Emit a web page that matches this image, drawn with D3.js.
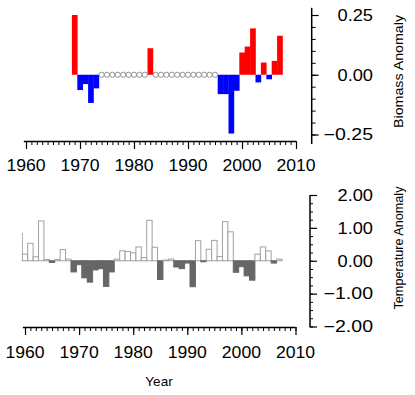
<!DOCTYPE html>
<html><head><meta charset="utf-8">
<script src="https://cdn.jsdelivr.net/npm/d3@7/dist/d3.min.js"></script>
<style>
body{margin:0;background:#fff}
svg{display:block}
text{font-family:"Liberation Sans",Arial,Helvetica,sans-serif;fill:#000}
</style>
</head><body>
<svg id="c" width="415" height="395"></svg>
<script>
// ---------- data ----------
const biomassYears = [1969,1970,1971,1972,1973,1974,1975,1976,1977,1978,1979,1980,1981,1982,1983,1984,1985,1986,1987,1988,1989,1990,1991,1992,1993,1994,1995,1996,1997,1998,1999,2000,2001,2002,2003,2004,2005,2006,2007];
const biomassValues = [0.25,-0.064,-0.039,-0.118,-0.057,null,null,null,null,null,null,null,null,null,0.111,null,null,null,null,null,null,null,null,null,null,null,null,-0.081,-0.081,-0.246,-0.067,0.093,0.118,0.194,-0.032,0.051,-0.019,0.058,0.163];

const tempYears = [1959,1960,1961,1962,1963,1964,1965,1966,1967,1968,1969,1970,1971,1972,1973,1974,1975,1976,1977,1978,1979,1980,1981,1982,1983,1984,1985,1986,1987,1988,1989,1990,1991,1992,1993,1994,1995,1996,1997,1998,1999,2000,2001,2002,2003,2004,2005,2006,2007];
const tempValues = [0.83,0.20,0.53,0.12,1.21,0.04,-0.05,0.04,0.34,0.05,-0.34,-0.12,-0.52,-0.65,-0.28,-0.24,-0.78,-0.34,0.05,0.30,0.28,0.24,0.42,0.10,1.23,0.41,-0.57,0.02,0.05,-0.19,-0.24,-0.07,-0.79,0.61,-0.03,0.35,0.62,0.13,1.19,0.88,-0.35,-0.18,-0.46,-0.59,0.20,0.42,0.30,-0.07,0.05];

const xTickLabels = ["1960","1970","1980","1990","2000","2010"];
const biomassTickLabels = ["0.25","0.00","\u22120.25"];
const tempTickLabels = ["2.00","1.00","0.00","\u22121.00","\u22122.00"];
const xTitle = "Year";
const biomassTitle = "Biomass Anomaly";
const tempTitle = "Temperature Anomaly";

const num = s => +s.replace("\u2212","-");
const svg = d3.select("#c");

function stretch(sel, f){
  sel.each(function(){
    const L = this.getComputedTextLength();
    d3.select(this).attr("textLength", L*f).attr("lengthAdjust","spacingAndGlyphs");
  });
}

// ---------- scales ----------
const xTop = d3.scaleLinear().domain([1960,2010]).range([26,296]);
const yTop = d3.scaleLinear().domain([-0.25,0.25]).range([134.5,15]);
const xBot = d3.scaleLinear().domain([1960,2010]).range([25,295.5]);
const yBot = d3.scaleLinear().domain([-2,2]).range([326.5,195]);

// ---------- top panel ----------
const topData = biomassYears.map((y,i)=>({year:y, v:biomassValues[i]}));
const bw = xTop(1961)-xTop(1960);
svg.append("g").selectAll("rect").data(topData.filter(d=>d.v!==null)).join("rect")
  .attr("x", d=>xTop(d.year)-bw/2)
  .attr("width", bw+0.3)
  .attr("y", d=>Math.min(yTop(d.v), yTop(0)))
  .attr("height", d=>Math.abs(yTop(d.v)-yTop(0)))
  .attr("fill", d=>d.v>=0 ? "#ff0000" : "#0000ff");
svg.append("g").selectAll("circle").data(topData.filter(d=>d.v===null)).join("circle")
  .attr("cx", d=>xTop(d.year)).attr("cy", yTop(0)).attr("r", 2.6)
  .attr("fill","#fff").attr("stroke","#777").attr("stroke-width",0.8);

// top x axis
function xAxis(x, yPos, labelY){
  const g = svg.append("g").attr("transform",`translate(0,${yPos})`);
  const minor = d3.range(1960,2011);
  g.call(d3.axisBottom(x).tickValues(minor).tickSize(4).tickSizeOuter(0).tickFormat(""));
  g.select(".domain").attr("stroke","#000").attr("stroke-width",1.5)
    .attr("d",`M${x(1959.6)},0.5H${x(2010)}`);
  g.selectAll(".tick line").attr("stroke","#000").attr("stroke-width",1);
  const maj = svg.append("g").attr("transform",`translate(0,${yPos})`);
  maj.call(d3.axisBottom(x).tickValues(xTickLabels.map(num)).tickSize(8).tickSizeOuter(0).tickFormat(""));
  maj.select(".domain").remove();
  maj.selectAll(".tick line").attr("stroke","#000").attr("stroke-width",1.2);
  const t = svg.append("g").selectAll("text").data(xTickLabels).join("text")
    .attr("x", d=>x(num(d))).attr("y", labelY)
    .attr("text-anchor","middle").attr("font-size",16).text(d=>d);
  stretch(t,1.1);
}
xAxis(xTop, 141, 170.7);

// y axis right
function yAxis(y, xPos, vTop, vBot, minorVals, labels, minorLen, majorLen){
  const g = svg.append("g").attr("transform",`translate(${xPos},0)`);
  g.append("line").attr("x1",0).attr("x2",0).attr("y1",y(vTop)).attr("y2",y(vBot))
    .attr("stroke","#000").attr("stroke-width",1.5);
  const a = d3.axisRight(y).tickValues(minorVals).tickSize(minorLen).tickFormat("");
  g.append("g").call(a).call(s=>s.select(".domain").remove())
    .selectAll(".tick line").attr("stroke","#000");
  const b = d3.axisRight(y).tickValues(labels.map(num)).tickSize(majorLen).tickFormat("");
  g.append("g").call(b).call(s=>s.select(".domain").remove())
    .selectAll(".tick line").attr("stroke","#000").attr("stroke-width",1.2);
  const t = svg.append("g").selectAll("text").data(labels).join("text")
    .attr("x",373).attr("y",d=>y(num(d))).attr("dy","0.36em")
    .attr("text-anchor","end").attr("font-size",16).text(d=>d);
  stretch(t.filter(d=>d[0]!=="\u2212"),1.14);
  stretch(t.filter(d=>d[0]==="\u2212"),1.22);
}
yAxis(yTop, 311.7, 0.28, -0.29, d3.range(-5,6).map(i=>i*0.05), biomassTickLabels, 4, 7);

svg.append("text").attr("transform",`translate(403,71.5) rotate(-90)`)
  .attr("text-anchor","middle").attr("font-size",12).text(biomassTitle)
  .attr("textLength",113).attr("lengthAdjust","spacingAndGlyphs");

// ---------- bottom panel ----------
const botData = tempYears.map((y,i)=>({year:y, v:tempValues[i]}));
const bw2 = xBot(1961)-xBot(1960);
svg.append("clipPath").attr("id","clipB").append("rect")
  .attr("x", xBot(1959.5)-0.5).attr("y",180).attr("width", 290).attr("height",160);
svg.append("g").attr("clip-path","url(#clipB)")
  .selectAll("rect").data(botData).join("rect")
  .attr("x", d=>xBot(d.year)-bw2/2)
  .attr("width", bw2)
  .attr("y", d=>Math.min(yBot(d.v), yBot(0)))
  .attr("height", d=>Math.max(0.6,Math.abs(yBot(d.v)-yBot(0))))
  .attr("fill", d=>d.v>=0 ? "#fff" : "#666")
  .attr("stroke", d=>d.v>=0 ? "#a0a0a0" : "#666")
  .attr("stroke-width",1);

xAxis(xBot, 327, 358);
yAxis(yBot, 310, 2, -2.02, d3.range(-8,9).map(i=>i*0.25), tempTickLabels, 3, 7);

svg.append("text").attr("transform",`translate(403,248) rotate(-90)`)
  .attr("text-anchor","middle").attr("font-size",12).text(tempTitle)
  .attr("textLength",123).attr("lengthAdjust","spacingAndGlyphs");

svg.append("text").attr("x",159).attr("y",386).attr("text-anchor","middle")
  .attr("font-size",13.5).text(xTitle);
</script>
</body></html>
